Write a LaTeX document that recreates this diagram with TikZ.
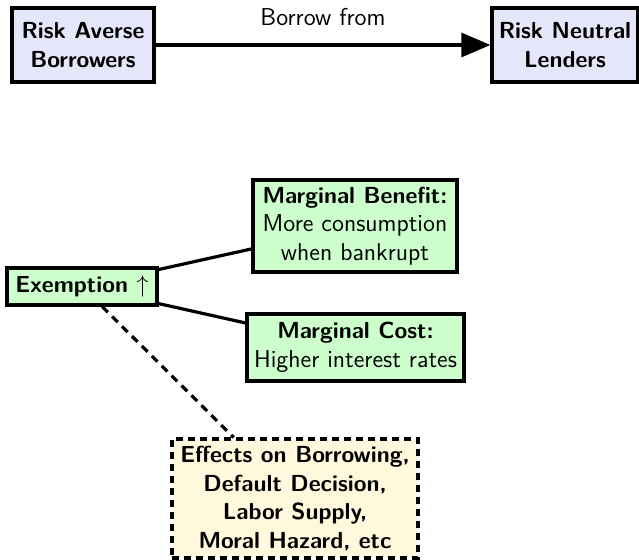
\documentclass[tikz,border=0pt]{standalone}
\usepackage{tikz}
\usetikzlibrary{arrows.meta}

\definecolor{lavender}{RGB}{230,230,250}
\definecolor{mintbox}{RGB}{204,255,204}
\definecolor{creambox}{RGB}{255,248,220}

\newcommand{\headline}[1]{{\fontsize{11.6}{14.4}\selectfont\bfseries #1}}

\tikzset{
    agent/.style={draw, fill=lavender, align=center, font=\sffamily\bfseries\fontsize{11.6}{14.4}\selectfont},
    effect/.style={draw, fill=mintbox, align=center},
    channel/.style={draw, dash pattern=on 3.5pt off 2.5pt, fill=creambox, align=center, font=\sffamily\bfseries\fontsize{11.6}{14.2}\selectfont}
}

\begin{document}
\begin{tikzpicture}[
    x=0.5pt, y=-0.5pt,
    >={Triangle[length=14.5pt, width=12pt]},
    line width=1.6pt,
    font=\sffamily\fontsize{12.2}{14.4}\selectfont
]
    \useasboundingbox (0, 0) rectangle (639, 560);

    % Market participants (top row)
    \node[agent, minimum width=71pt, minimum height=37pt] (borrowers) at (83, 45) {Risk Averse\\ Borrowers};
    \node[agent, minimum width=73pt, minimum height=37pt] (lenders) at (565, 45) {Risk Neutral\\ Lenders};
    \draw[->] (borrowers) -- node[midway, yshift=14pt] (borrowlbl) {Borrow from} (lenders);

    % Exemption and its trade-off
    \node[effect, minimum width=75pt, minimum height=18.5pt] (exemption) at (82, 286.5) {\headline{Exemption $\uparrow$}};
    \node[effect, minimum width=102pt, minimum height=46pt] (benefit) at (355, 226) {\headline{Marginal Benefit:}\\ More consumption\\ when bankrupt};
    \node[effect, minimum width=108.5pt, minimum height=33.5pt] (cost) at (355.5, 347.5) {\headline{Marginal Cost:}\\ Higher interest rates};

    \draw (exemption) -- (benefit);
    \draw (exemption) -- (cost);

    % Further channels
    \node[channel, minimum width=123pt, minimum height=59.5pt] (effects) at (295, 498.5) {Effects on Borrowing,\\ Default Decision,\\ Labor Supply,\\ Moral Hazard, etc};
    \draw[dash pattern=on 4pt off 3pt] (exemption) -- (effects);

\end{tikzpicture}
\end{document}
